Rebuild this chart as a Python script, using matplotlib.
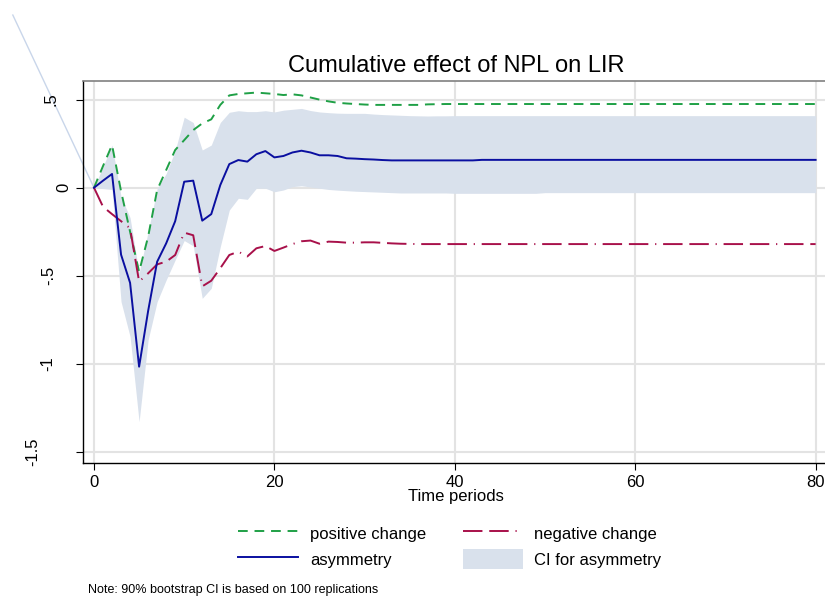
import matplotlib
matplotlib.use('Agg')
import matplotlib.pyplot as plt
from matplotlib.patches import Patch
from matplotlib.lines import Line2D

plt.rcParams['font.family'] = ['Liberation Sans', 'DejaVu Sans']

periods = list(range(81))

asymmetry = [
    0, 0.04, 0.078, -0.38, -0.54, -1.016, -0.70, -0.42, -0.316, -0.19,
    0.034, 0.04, -0.187, -0.15, 0.015, 0.134, 0.157, 0.148, 0.19, 0.208,
    0.172, 0.18, 0.2, 0.21, 0.2, 0.184, 0.184, 0.18, 0.167, 0.165,
    0.162, 0.16, 0.157, 0.155, 0.155, 0.155, 0.155, 0.155, 0.155, 0.155,
    0.155, 0.155, 0.155, 0.158, 0.158, 0.158, 0.158, 0.158, 0.158, 0.158,
    0.158, 0.158, 0.158, 0.158, 0.158, 0.158, 0.158, 0.158, 0.158, 0.158,
    0.158, 0.158, 0.158, 0.158, 0.158, 0.158, 0.158, 0.158, 0.158, 0.158,
    0.158, 0.158, 0.158, 0.158, 0.158, 0.158, 0.158, 0.158, 0.158, 0.158,
    0.158,
]

positive = [
    0, 0.123, 0.242, -0.02, -0.25, -0.477, -0.278, -0.013, 0.1, 0.214,
    0.27, 0.327, 0.365, 0.388, 0.47, 0.524, 0.532, 0.536, 0.54, 0.536,
    0.532, 0.526, 0.53, 0.524, 0.512, 0.5, 0.49, 0.482, 0.478, 0.475,
    0.472, 0.47, 0.47, 0.47, 0.47, 0.47, 0.47, 0.473, 0.474, 0.475,
    0.475, 0.475, 0.475, 0.475, 0.475, 0.475, 0.475, 0.475, 0.475, 0.475,
    0.475, 0.475, 0.475, 0.475, 0.475, 0.475, 0.475, 0.475, 0.475, 0.475,
    0.475, 0.475, 0.475, 0.475, 0.475, 0.475, 0.475, 0.475, 0.475, 0.475,
    0.475, 0.475, 0.475, 0.475, 0.475, 0.475, 0.475, 0.475, 0.475, 0.475,
    0.475,
]

negative = [
    0, -0.108, -0.15, -0.19, -0.23, -0.533, -0.486, -0.435, -0.42, -0.382,
    -0.255, -0.27, -0.56, -0.528, -0.457, -0.382, -0.363, -0.39, -0.344, -0.331,
    -0.359, -0.34, -0.32, -0.304, -0.3, -0.318, -0.306, -0.308, -0.312, -0.312,
    -0.31, -0.31, -0.313, -0.316, -0.318, -0.319, -0.32, -0.32, -0.32, -0.32,
    -0.32, -0.32, -0.32, -0.32, -0.32, -0.32, -0.32, -0.32, -0.32, -0.32,
    -0.32, -0.32, -0.32, -0.32, -0.32, -0.32, -0.32, -0.32, -0.32, -0.32,
    -0.32, -0.32, -0.32, -0.32, -0.32, -0.32, -0.32, -0.32, -0.32, -0.32,
    -0.32, -0.32, -0.32, -0.32, -0.32, -0.32, -0.32, -0.32, -0.32, -0.32,
    -0.32,
]

ci_upper = [
    0, 0.12, 0.242, -0.05, -0.17, -0.486, -0.25, -0.005, 0.08, 0.21,
    0.4, 0.37, 0.214, 0.242, 0.37, 0.428, 0.437, 0.432, 0.432, 0.437,
    0.43, 0.44, 0.445, 0.45, 0.438, 0.43, 0.426, 0.423, 0.422, 0.422,
    0.422, 0.418, 0.415, 0.413, 0.411, 0.409, 0.408, 0.407, 0.408, 0.408,
    0.409, 0.409, 0.409, 0.409, 0.409, 0.409, 0.409, 0.409, 0.409, 0.409,
    0.409, 0.409, 0.409, 0.409, 0.409, 0.409, 0.409, 0.409, 0.409, 0.409,
    0.409, 0.409, 0.409, 0.409, 0.409, 0.409, 0.409, 0.409, 0.409, 0.409,
    0.409, 0.409, 0.409, 0.409, 0.409, 0.409, 0.409, 0.409, 0.409, 0.409,
    0.409,
]

ci_lower = [
    0, -0.005, -0.01, -0.647, -0.845, -1.328, -0.864, -0.647, -0.524, -0.41,
    -0.3, -0.33, -0.628, -0.571, -0.335, -0.127, -0.06, -0.066, -0.003, -0.003,
    -0.023, -0.013, 0.006, 0.011, 0.004, -0.003, -0.01, -0.014, -0.017, -0.02,
    -0.022, -0.024, -0.026, -0.028, -0.03, -0.03, -0.03, -0.03, -0.03, -0.03,
    -0.032, -0.032, -0.032, -0.032, -0.032, -0.032, -0.032, -0.032, -0.032, -0.032,
    -0.028, -0.028, -0.028, -0.028, -0.028, -0.028, -0.028, -0.028, -0.028, -0.028,
    -0.028, -0.028, -0.028, -0.028, -0.028, -0.028, -0.028, -0.028, -0.028, -0.028,
    -0.028, -0.028, -0.028, -0.028, -0.028, -0.028, -0.028, -0.028, -0.028, -0.028,
    -0.028,
]

# stray segment of the CI outline that runs off the plot region
stray_x = [-9.0, 0]
stray_y = [0.98, 0]

yticks = [-1.5, -1, -0.5, 0, 0.5]
ytick_labels = ['-1.5', '-1', '-.5', '0', '.5']
xticks = [0, 20, 40, 60, 80]

c_band = '#d9e1ec'
c_pos = '#1fa046'
c_neg = '#a8104a'
c_asym = '#0a0fa0'
c_grid = '#e3e3e3'
pos_dash = (0, (5, 3.5))
neg_dash = (0, (10, 3.5, 10, 3.5, 0.6, 3.5))

fig = plt.figure(figsize=(8.25, 5.99), dpi=100)
ax = fig.add_axes([0.1006, 0.2275, 0.8994, 0.6365])

ax.fill_between(periods, ci_lower, ci_upper, color=c_band, lw=0, zorder=2)
ax.plot(stray_x, stray_y, color='#c9d6ea', lw=1.0, clip_on=False, zorder=2)
ax.plot(periods, positive, color=c_pos, lw=1.4, ls=pos_dash, zorder=3)
ax.plot(periods, negative, color=c_neg, lw=1.4, ls=neg_dash, zorder=3)
ax.plot(periods, asymmetry, color=c_asym, lw=1.4, zorder=4)

ax.set_xlim(-1.22, 81.04)
ax.set_ylim(-1.561, 0.603)
ax.set_xticks(xticks)
ax.set_yticks(yticks)
ax.set_yticklabels([])
ax.tick_params(labelsize=12, length=5, width=0.8, color='black')

# rotated y labels, offset like the Stata output (longer labels sit further left)
label_x_px = [33, 48, 49, 64, 51]
for val, lab, px in zip(yticks, ytick_labels, label_x_px):
    ax.text((px - 83) / 742, val, lab, transform=ax.get_yaxis_transform(),
            rotation=90, ha='center', va='center', fontsize=12)

ax.grid(True, color=c_grid, lw=1.5, zorder=0)
ax.set_axisbelow(True)
ax.spines['right'].set_visible(False)
ax.spines['top'].set_color('#808080')
ax.spines['top'].set_linewidth(1.2)
ax.spines['left'].set_linewidth(1.0)
ax.spines['bottom'].set_linewidth(1.0)

fig.text(456 / 825, 1 - 66 / 599, 'Cumulative effect of NPL on LIR', ha='center', va='center', fontsize=17)
fig.text(456 / 825, 1 - 497 / 599, 'Time periods', ha='center', va='center', fontsize=12)

# column-major fill: pos/asym in col 1, neg/CI in col 2
handles = [
    Line2D([], [], color=c_pos, lw=1.4, ls=pos_dash),
    Line2D([], [], color=c_asym, lw=1.4),
    Line2D([], [], color=c_neg, lw=1.4, ls=neg_dash),
    Patch(facecolor=c_band, edgecolor='none'),
]
labels = ['positive change', 'asymmetry', 'negative change', 'CI for asymmetry']
fig.legend(handles, labels, ncol=2, frameon=False, fontsize=12,
           loc='center', bbox_to_anchor=(450 / 825, 1 - 546 / 599),
           handlelength=3.6, handletextpad=0.7, columnspacing=2.2,
           labelspacing=0.4, handleheight=1.4)

fig.text(88 / 825, 1 - 590 / 599, 'Note: 90% bootstrap CI is based on 100 replications',
         ha='left', va='center', fontsize=9)

fig.savefig('out.png', dpi=100)
